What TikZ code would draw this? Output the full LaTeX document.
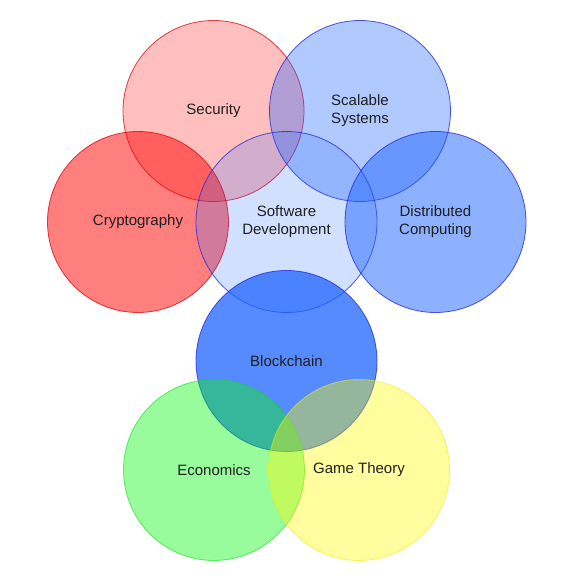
\documentclass[tikz,border=0pt]{standalone}
\usepackage{fontspec}
\setmainfont{Liberation Sans}
\definecolor{vennred}{RGB}{255,0,0}
\definecolor{vennblue}{RGB}{30,100,255}
\definecolor{vennedge}{RGB}{40,40,215}
\definecolor{venngreen}{RGB}{10,245,20}
\definecolor{vennyellow}{RGB}{255,250,0}
\tikzset{
	area/.style={circle, draw, minimum size=181pt, inner sep=0pt, align=center,
		text opacity=1, text=black!88, font=\fontsize{15}{18}\selectfont, line width=0.8pt},
	redarea/.style={area, fill=vennred, draw=vennred!85!black, draw opacity=0.75},
	bluearea/.style={area, fill=vennblue, draw=vennedge, draw opacity=0.8},
	greenarea/.style={area, fill=venngreen, draw=venngreen!90!black, draw opacity=0.6},
	yellowarea/.style={area, fill=vennyellow, draw=vennyellow!95!black, draw opacity=0.6}
}
\begin{document}
\begin{tikzpicture}[x=1pt, y=-1pt] % venn
		\useasboundingbox (0,0) rectangle (573,582);

		% upper ring
		\node[redarea, fill opacity=0.25] (security) at (213.5,111) {Security};
		\node[bluearea, fill opacity=0.35] (scalable) at (360,111) {Scalable\\Systems};

		\node[redarea, fill opacity=0.5] (crypto) at (138,222) {Cryptography};
		\node[bluearea, fill opacity=0.2] (software) at (286.5,222) {Software\\Development};
		\node[bluearea, fill opacity=0.5] (distributed) at (435.5,222) {Distributed\\Computing};

		% lower ring
		\node[bluearea, fill opacity=0.75] (blockchain) at (286.5,361) {Blockchain};
		\node[greenarea, fill opacity=0.42] (economics) at (214,470) {Economics};
		\node[yellowarea, fill opacity=0.38] (game) at (359,470) {Game Theory};
\end{tikzpicture}
\end{document}
